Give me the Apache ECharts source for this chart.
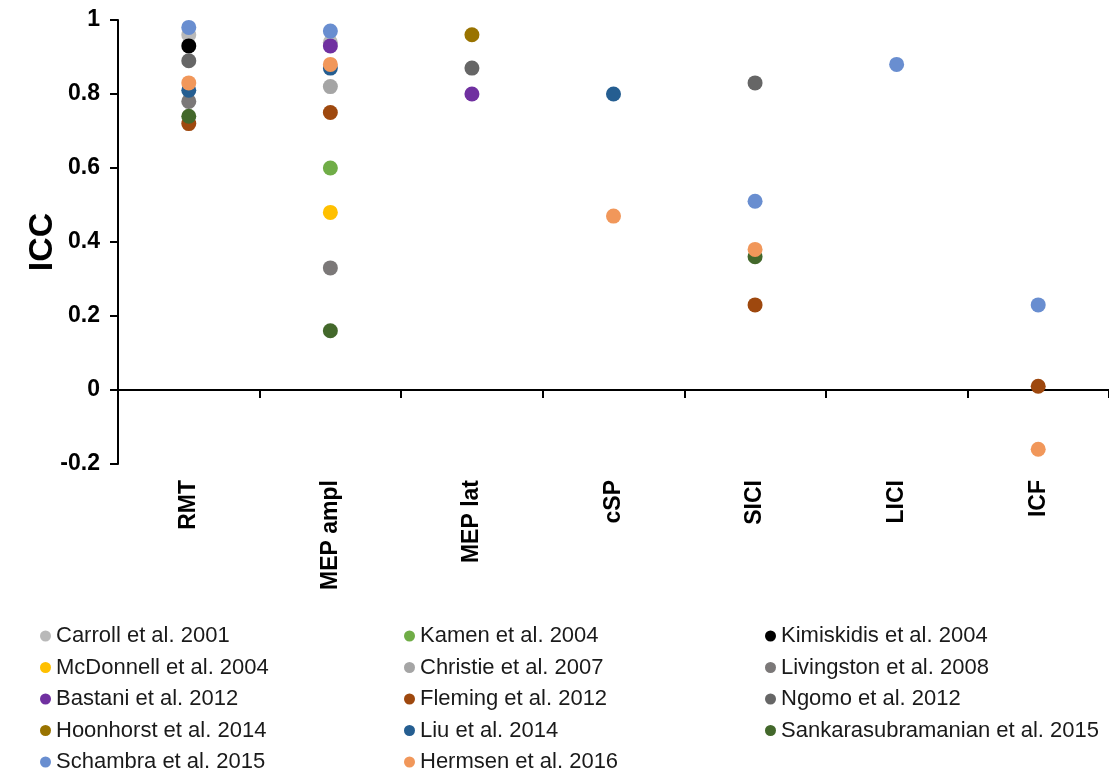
<!DOCTYPE html>
<html>
<head>
<meta charset="utf-8">
<title>ICC by TMS measure</title>
<script src="https://cdn.jsdelivr.net/npm/echarts@6/dist/echarts.min.js"></script>
<style>
  html, body { margin: 0; padding: 0; background: #fff; }
  #chart { width: 1109px; height: 773px; }
</style>
</head>
<body>
<div id="chart"></div>
<script>
// TMS measures on the category axis
const measures = ['RMT', 'MEP ampl', 'MEP lat', 'cSP', 'SICI', 'LICI', 'ICF'];

// ICC per study, one value per measure (null = not reported)
const carroll       = [0.96, 0.94, null, null, null, null, null];
const kamen         = [null, 0.60, null, null, null, null, null];
const kimiskidis    = [0.93, null, null, null, null, null, null];
const mcdonnell     = [null, 0.48, null, null, null, null, null];
const christie      = [null, 0.82, null, null, null, null, null];
const livingston    = [0.78, 0.33, null, null, null, null, null];
const bastani       = [null, 0.93, 0.80, null, null, null, null];
const fleming       = [0.72, 0.75, null, null, 0.23, null, 0.01];
const ngomo         = [0.89, null, 0.87, null, 0.83, null, null];
const hoonhorst     = [null, null, 0.96, null, null, null, null];
const liu           = [0.81, 0.87, null, 0.80, null, null, null];
const sankara       = [0.74, 0.16, null, null, 0.36, null, null];
const schambra      = [0.98, 0.97, null, null, 0.51, 0.88, 0.23];
const hermsen       = [0.83, 0.88, null, 0.47, 0.38, null, -0.16];

// Y-axis ticks
const yTicks = [-0.2, 0, 0.2, 0.4, 0.6, 0.8, 1];

const studies = [
  { name: 'Carroll et al. 2001',              values: carroll,    color: '#B9B9B9' },
  { name: 'Kamen et al. 2004',                values: kamen,      color: '#70AD47' },
  { name: 'Kimiskidis et al. 2004',           values: kimiskidis, color: '#000000' },
  { name: 'McDonnell et al. 2004',            values: mcdonnell,  color: '#FFC000' },
  { name: 'Christie et al. 2007',             values: christie,   color: '#A5A5A5' },
  { name: 'Livingston et al. 2008',           values: livingston, color: '#7B7878' },
  { name: 'Bastani et al. 2012',              values: bastani,    color: '#7030A0' },
  { name: 'Fleming et al. 2012',              values: fleming,    color: '#9E480E' },
  { name: 'Ngomo et al. 2012',                values: ngomo,      color: '#666666' },
  { name: 'Hoonhorst et al. 2014',            values: hoonhorst,  color: '#997300' },
  { name: 'Liu et al. 2014',                  values: liu,        color: '#255E91' },
  { name: 'Sankarasubramanian et al. 2015',   values: sankara,    color: '#43682B' },
  { name: 'Schambra et al. 2015',             values: schambra,   color: '#698ED0' },
  { name: 'Hermsen et al. 2016',              values: hermsen,    color: '#F1975A' }
];

const FONT = 'Liberation Sans, Arial, sans-serif';

const series = studies.map(s => ({
  name: s.name,
  type: 'scatter',
  xAxisIndex: 0,
  yAxisIndex: 0,
  symbol: 'circle',
  symbolSize: 15,
  itemStyle: { color: s.color, opacity: 1 },
  emphasis: { disabled: true },
  data: s.values
    .map((v, i) => (v === null ? null : [measures[i], v]))
    .filter(d => d !== null)
}));

// Legend laid out in three columns, row-major
const col = k => studies.filter((_, i) => i % 3 === k).map(s => s.name);
const legendBase = {
  type: 'plain',
  orient: 'vertical',
  top: 625,
  height: 300,
  padding: 0,
  icon: 'circle',
  itemWidth: 11,
  itemHeight: 11,
  itemGap: 9.5,
  selectedMode: false,
  textStyle: { fontFamily: FONT, fontSize: 22, color: '#1a1a1a' }
};

const chart = echarts.init(document.getElementById('chart'), null, { renderer: 'canvas' });
chart.setOption({
  animation: false,
  backgroundColor: '#ffffff',
  textStyle: { fontFamily: FONT },
  grid: { left: 118, top: 20, width: 994, height: 444, containLabel: false },
  legend: [
    Object.assign({}, legendBase, { left: 40, data: col(0) }),
    Object.assign({}, legendBase, { left: 404, data: col(1) }),
    Object.assign({}, legendBase, { left: 765, data: col(2) })
  ],
  xAxis: [
    {
      type: 'category',
      data: measures,
      boundaryGap: true,
      axisLine: { show: true, onZero: true, lineStyle: { color: '#000', width: 2 } },
      axisTick: { show: true, length: 8, inside: false, lineStyle: { color: '#000', width: 2 } },
      axisLabel: { show: false },
      splitLine: { show: false }
    },
    {
      type: 'category',
      data: measures,
      position: 'bottom',
      boundaryGap: true,
      axisLine: { show: false, onZero: false },
      axisTick: { show: false },
      axisLabel: {
        show: true,
        rotate: 90,
        margin: 16,
        fontSize: 23,
        fontWeight: 'bold',
        color: '#000',
        fontFamily: FONT
      },
      splitLine: { show: false }
    }
  ],
  yAxis: {
    type: 'value',
    min: yTicks[0],
    max: yTicks[yTicks.length - 1],
    interval: 0.2,
    name: 'ICC',
    nameLocation: 'middle',
    nameRotate: 90,
    nameGap: 58,
    nameMoveOverlap: false,
    nameTextStyle: { fontSize: 34, fontWeight: 'bold', color: '#000', fontFamily: FONT },
    axisLine: { show: true, onZero: false, lineStyle: { color: '#000', width: 2 } },
    axisTick: { show: true, length: 8, lineStyle: { color: '#000', width: 2 } },
    axisLabel: {
      fontSize: 23,
      fontWeight: 'bold',
      color: '#000',
      margin: 18,
      fontFamily: FONT,
      formatter: v => String(Math.round(v * 10) / 10)
    },
    splitLine: { show: false }
  },
  series: series
});
</script>
</body>
</html>
